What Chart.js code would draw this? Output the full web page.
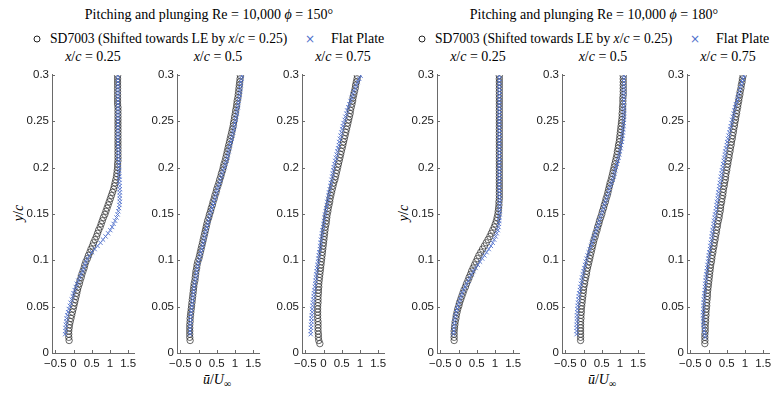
<!DOCTYPE html>
<html><head><meta charset="utf-8">
<script src="https://cdn.jsdelivr.net/npm/chart.js@4.4.1/dist/chart.umd.min.js"></script>
<style>
html,body{margin:0;padding:0;background:#fff;}
#wrap{position:relative;width:771px;height:393px;overflow:hidden;font-family:"Liberation Serif",serif;color:#000;}
canvas{position:absolute;}
.t{position:absolute;white-space:nowrap;transform:translate(-50%,-50%);font-size:14px;line-height:1;}
.l{position:absolute;white-space:nowrap;transform:translateY(-50%);font-size:14px;line-height:1;}
.ls{font-size:13.6px;}
.circ{position:absolute;width:5px;height:5px;border:1px solid #222;border-radius:50%;transform:translate(-50%,-50%);}
.cross{position:absolute;color:#5070cc;font-family:"DejaVu Sans",sans-serif;font-size:12px;transform:translate(-50%,-50%);line-height:1;}
.rot{position:absolute;white-space:nowrap;transform:translate(-50%,-50%) rotate(-90deg);font-size:14px;line-height:1;}
</style></head>
<body><div id="wrap">
<div class="t" style="left:209px;top:15px">Pitching and plunging Re = 10,000 <i>ϕ</i> = 150°</div>
<div class="t" style="left:594px;top:15px">Pitching and plunging Re = 10,000 <i>ϕ</i> = 180°</div>
<div class="circ" style="left:37px;top:39px"></div>
<div class="l ls" style="left:50px;top:39px">SD7003 (Shifted towards LE by <i>x</i>/<i>c</i> = 0.25)</div>
<div class="cross" style="left:310px;top:39px">×</div>
<div class="l" style="left:331px;top:39px">Flat Plate</div>
<div class="circ" style="left:422px;top:39px"></div>
<div class="l ls" style="left:435px;top:39px">SD7003 (Shifted towards LE by <i>x</i>/<i>c</i> = 0.25)</div>
<div class="cross" style="left:695px;top:39px">×</div>
<div class="l" style="left:716px;top:39px">Flat Plate</div>
<div class="t" style="left:93px;top:57px"><i>x</i>/<i>c</i> = 0.25</div>
<div class="t" style="left:218px;top:57px"><i>x</i>/<i>c</i> = 0.5</div>
<div class="t" style="left:343px;top:57px"><i>x</i>/<i>c</i> = 0.75</div>
<div class="t" style="left:478px;top:57px"><i>x</i>/<i>c</i> = 0.25</div>
<div class="t" style="left:603px;top:57px"><i>x</i>/<i>c</i> = 0.5</div>
<div class="t" style="left:728px;top:57px"><i>x</i>/<i>c</i> = 0.75</div>
<div class="rot" style="left:19px;top:213px"><i>y</i>/<i>c</i></div>
<div class="rot" style="left:404px;top:213px"><i>y</i>/<i>c</i></div>
<div class="t" style="left:217px;top:381px"><i>ū</i>/<i>U</i><sub style="font-size:10px">∞</sub></div>
<div class="t" style="left:602px;top:381px"><i>ū</i>/<i>U</i><sub style="font-size:10px">∞</sub></div>
</div>
<script>
const yTickVals = [0, 0.05, 0.1, 0.15, 0.2, 0.25, 0.3];
const yTickLabels = ['0', '0.05', '0.1', '0.15', '0.2', '0.25', '0.3'];
const xTickVals = [-0.5, 0, 0.5, 1, 1.5];
const xTickLabels = ['\u22120.5', '0', '0.5', '1', '1.5'];

const yGrid = [
0.0101,0.0135,0.0169,0.0203,0.0237,0.0271,0.0305,0.0339,0.0373,0.0407,
0.0441,0.0475,0.0509,0.0543,0.0577,0.0611,0.0645,0.0679,0.0713,0.0747,
0.0781,0.0815,0.0849,0.0883,0.0917,0.0951,0.0985,0.1019,0.1053,0.1087,
0.1121,0.1155,0.1189,0.1223,0.1257,0.1291,0.1325,0.1359,0.1393,0.1427,
0.1461,0.1495,0.1529,0.1563,0.1597,0.1631,0.1665,0.1699,0.1733,0.1767,
0.1801,0.1835,0.1869,0.1903,0.1937,0.1971,0.2005,0.2039,0.2073,0.2107,
0.2141,0.2175,0.2209,0.2243,0.2277,0.2311,0.2345,0.2379,0.2413,0.2447,
0.2481,0.2515,0.2549,0.2583,0.2617,0.2651,0.2685,0.2719,0.2753,0.2787,
0.2821,0.2855,0.2889,0.2923,0.2957,0.2991];

// phi = 150 deg
const sd150_025 = [
null,-0.12,-0.13,-0.13,-0.13,-0.12,-0.11,-0.09,-0.07,-0.05,
-0.03,-0.01,0.01,0.03,0.05,0.07,0.09,0.11,0.13,0.16,
0.18,0.21,0.23,0.26,0.29,0.31,0.34,0.38,0.41,0.45,
0.48,0.52,0.55,0.59,0.63,0.66,0.69,0.73,0.76,0.79,
0.82,0.86,0.89,0.92,0.95,0.98,1.01,1.04,1.07,1.10,
1.12,1.14,1.16,1.18,1.19,1.20,1.21,1.21,1.22,1.22,
1.22,1.22,1.22,1.22,1.22,1.22,1.22,1.22,1.22,1.22,
1.22,1.22,1.22,1.22,1.22,1.22,1.21,1.21,1.21,1.21,
1.21,1.21,1.21,1.21,1.21,1.21];
const fp150_025 = [
null,null,null,-0.23,-0.22,-0.22,-0.21,-0.20,-0.19,-0.17,
-0.15,-0.13,-0.10,-0.08,-0.05,-0.02,0.00,0.03,0.06,0.09,
0.13,0.17,0.21,0.25,0.28,0.31,0.34,0.38,0.44,0.51,
0.58,0.66,0.74,0.81,0.88,0.95,1.01,1.06,1.10,1.14,
1.18,1.21,1.23,1.25,1.26,1.27,1.27,1.27,1.27,1.27,
1.27,1.26,1.26,1.26,1.25,1.25,1.25,1.24,1.24,1.23,
1.23,1.23,1.23,1.22,1.22,1.22,1.22,1.22,1.22,1.22,
1.22,1.22,1.22,1.22,1.22,1.22,1.22,1.22,1.22,1.22,
1.22,1.22,1.22,1.22,1.22,1.22];
const sd150_050 = [
null,-0.23,-0.24,-0.24,-0.24,-0.24,-0.24,-0.23,-0.23,-0.22,
-0.21,-0.20,-0.19,-0.18,-0.17,-0.16,-0.15,-0.14,-0.13,-0.12,
-0.10,-0.09,-0.08,-0.07,-0.05,-0.04,-0.02,0.01,0.03,0.05,
0.07,0.09,0.11,0.13,0.15,0.17,0.19,0.21,0.23,0.25,
0.28,0.30,0.33,0.35,0.38,0.40,0.43,0.45,0.48,0.50,
0.53,0.56,0.58,0.61,0.63,0.66,0.68,0.70,0.73,0.75,
0.77,0.79,0.81,0.83,0.85,0.87,0.89,0.91,0.93,0.95,
0.96,0.98,0.99,1.01,1.02,1.04,1.05,1.06,1.08,1.09,
1.10,1.11,1.12,1.13,1.14,1.15];
const fp150_050 = [
null,null,null,-0.23,-0.23,-0.23,-0.23,-0.22,-0.22,-0.21,
-0.20,-0.19,-0.18,-0.17,-0.16,-0.15,-0.14,-0.13,-0.12,-0.11,
-0.09,-0.07,-0.06,-0.05,-0.03,-0.02,0.00,0.03,0.05,0.07,
0.09,0.11,0.13,0.15,0.17,0.19,0.21,0.23,0.25,0.27,
0.30,0.32,0.35,0.37,0.40,0.42,0.45,0.47,0.50,0.52,
0.55,0.58,0.60,0.63,0.65,0.68,0.72,0.74,0.77,0.79,
0.81,0.83,0.85,0.87,0.89,0.91,0.93,0.95,0.97,0.99,
1.00,1.02,1.03,1.05,1.06,1.08,1.09,1.10,1.12,1.13,
1.14,1.15,1.16,1.17,1.18,1.19];
const sd150_075 = [
-0.10,-0.13,-0.14,-0.14,-0.15,-0.15,-0.15,-0.15,-0.16,-0.16,
-0.16,-0.16,-0.16,-0.15,-0.15,-0.15,-0.14,-0.14,-0.13,-0.13,
-0.12,-0.11,-0.10,-0.09,-0.08,-0.07,-0.06,-0.05,-0.04,-0.03,
-0.02,-0.01,0.00,0.01,0.02,0.03,0.04,0.05,0.07,0.08,
0.09,0.10,0.12,0.13,0.15,0.17,0.18,0.20,0.22,0.24,
0.26,0.28,0.31,0.33,0.35,0.37,0.39,0.41,0.43,0.45,
0.47,0.49,0.51,0.53,0.55,0.57,0.59,0.61,0.63,0.65,
0.67,0.69,0.71,0.73,0.74,0.76,0.78,0.80,0.81,0.83,
0.85,0.87,0.88,0.90,0.92,0.93];
const fp150_075 = [
null,null,null,-0.35,-0.35,-0.34,-0.34,-0.33,-0.33,-0.32,
-0.31,-0.31,-0.30,-0.29,-0.28,-0.27,-0.26,-0.25,-0.24,-0.23,
-0.22,-0.21,-0.20,-0.19,-0.18,-0.17,-0.15,-0.14,-0.13,-0.12,
-0.10,-0.09,-0.08,-0.07,-0.05,-0.04,-0.03,-0.01,0.00,0.01,
0.03,0.04,0.06,0.07,0.09,0.10,0.12,0.14,0.15,0.17,
0.19,0.20,0.22,0.24,0.25,0.27,0.28,0.30,0.32,0.34,
0.36,0.38,0.40,0.42,0.43,0.45,0.47,0.49,0.51,0.53,
0.55,0.58,0.60,0.63,0.65,0.68,0.71,0.74,0.77,0.80,
0.83,0.87,0.90,0.94,0.98,1.02];

// phi = 180 deg
const sd180_025 = [
null,-0.12,-0.12,-0.12,-0.12,-0.11,-0.10,-0.09,-0.07,-0.06,
-0.04,-0.02,0.01,0.03,0.06,0.09,0.12,0.15,0.19,0.22,
0.26,0.29,0.33,0.36,0.40,0.44,0.48,0.52,0.56,0.61,
0.66,0.71,0.76,0.81,0.86,0.90,0.94,0.98,1.01,1.04,
1.06,1.08,1.09,1.10,1.11,1.11,1.12,1.12,1.12,1.12,
1.12,1.12,1.12,1.12,1.12,1.12,1.12,1.12,1.12,1.12,
1.12,1.12,1.12,1.12,1.12,1.12,1.12,1.12,1.12,1.12,
1.12,1.12,1.12,1.12,1.12,1.12,1.12,1.12,1.12,1.12,
1.12,1.12,1.12,1.12,1.12,1.12];
const fp180_025 = [
null,null,null,-0.14,-0.13,-0.13,-0.12,-0.11,-0.10,-0.08,
-0.06,-0.04,-0.02,0.01,0.04,0.07,0.10,0.14,0.18,0.22,
0.27,0.31,0.36,0.41,0.47,0.53,0.59,0.65,0.71,0.77,
0.83,0.89,0.94,0.98,1.02,1.05,1.08,1.10,1.11,1.12,
1.12,1.13,1.13,1.13,1.13,1.13,1.13,1.12,1.12,1.12,
1.12,1.12,1.12,1.12,1.12,1.12,1.12,1.12,1.12,1.12,
1.12,1.12,1.12,1.12,1.12,1.12,1.12,1.12,1.12,1.12,
1.12,1.12,1.12,1.12,1.12,1.12,1.12,1.12,1.12,1.12,
1.12,1.12,1.12,1.12,1.12,1.12];
const sd180_050 = [
null,-0.08,-0.08,-0.08,-0.08,-0.08,-0.08,-0.08,-0.07,-0.07,
-0.06,-0.06,-0.05,-0.04,-0.03,-0.02,-0.01,0.00,0.01,0.03,
0.04,0.06,0.08,0.09,0.11,0.13,0.15,0.17,0.19,0.21,
0.23,0.25,0.27,0.29,0.32,0.34,0.37,0.39,0.42,0.44,
0.47,0.50,0.52,0.55,0.57,0.60,0.62,0.65,0.67,0.69,
0.71,0.73,0.76,0.78,0.80,0.82,0.84,0.86,0.88,0.90,
0.92,0.93,0.95,0.96,0.98,0.99,1.00,1.01,1.02,1.03,
1.04,1.05,1.06,1.06,1.07,1.07,1.08,1.08,1.08,1.09,
1.09,1.09,1.09,1.09,1.09,1.09];
const fp180_050 = [
null,null,null,-0.19,-0.19,-0.19,-0.19,-0.18,-0.18,-0.18,
-0.17,-0.17,-0.16,-0.15,-0.14,-0.13,-0.12,-0.10,-0.09,-0.07,
-0.05,-0.04,-0.02,0.00,0.02,0.04,0.06,0.08,0.11,0.14,
0.17,0.20,0.23,0.26,0.29,0.32,0.35,0.38,0.41,0.43,
0.46,0.49,0.52,0.55,0.57,0.60,0.63,0.66,0.69,0.71,
0.74,0.77,0.80,0.83,0.85,0.87,0.89,0.92,0.94,0.96,
0.98,1.00,1.02,1.03,1.05,1.06,1.07,1.08,1.09,1.10,
1.10,1.11,1.11,1.11,1.11,1.11,1.11,1.11,1.11,1.11,
1.11,1.11,1.11,1.11,1.11,1.11];
const sd180_075 = [
-0.10,-0.10,-0.10,-0.10,-0.09,-0.09,-0.09,-0.08,-0.08,-0.07,
-0.07,-0.06,-0.05,-0.05,-0.04,-0.03,-0.03,-0.02,-0.01,0.00,
0.01,0.02,0.03,0.04,0.05,0.06,0.08,0.09,0.10,0.12,
0.13,0.15,0.16,0.18,0.19,0.21,0.22,0.24,0.25,0.27,
0.29,0.30,0.32,0.33,0.34,0.36,0.37,0.39,0.40,0.41,
0.43,0.44,0.46,0.47,0.48,0.50,0.51,0.53,0.54,0.56,
0.57,0.59,0.60,0.62,0.63,0.65,0.66,0.68,0.69,0.71,
0.72,0.74,0.75,0.77,0.78,0.80,0.81,0.83,0.84,0.86,
0.87,0.89,0.90,0.92,0.93,0.95];
const fp180_075 = [
null,null,-0.09,-0.11,-0.12,-0.13,-0.14,-0.14,-0.15,-0.15,
-0.15,-0.14,-0.14,-0.13,-0.13,-0.12,-0.11,-0.10,-0.10,-0.09,
-0.08,-0.07,-0.06,-0.05,-0.04,-0.03,-0.01,0.00,0.01,0.02,
0.04,0.05,0.06,0.08,0.09,0.10,0.11,0.13,0.14,0.15,
0.17,0.18,0.20,0.21,0.22,0.23,0.25,0.26,0.27,0.29,
0.30,0.31,0.33,0.34,0.36,0.37,0.39,0.40,0.42,0.43,
0.45,0.46,0.48,0.50,0.51,0.53,0.55,0.57,0.59,0.61,
0.63,0.65,0.67,0.69,0.71,0.73,0.75,0.78,0.80,0.82,
0.85,0.87,0.90,0.92,0.95,0.97];

const axisLeft = [52, 177, 302, 437, 562, 687];
const panels = [
  [sd150_025, fp150_025], [sd150_050, fp150_050], [sd150_075, fp150_075],
  [sd180_025, fp180_025], [sd180_050, fp180_050], [sd180_075, fp180_075]
];
panels.forEach((p, k) => {
  if (p[0].length !== yGrid.length || p[1].length !== yGrid.length)
    throw new Error('length mismatch panel ' + k + ': ' + p[0].length + ',' + p[1].length);
});

const AX = '#6a6a6a';
const BLUE = '#5070cc';
const wrap = document.getElementById('wrap');

const inwardTicks = {
  id: 'inwardTicks',
  afterDraw(chart) {
    const ctx = chart.ctx, a = chart.chartArea, xs = chart.scales.x, ys = chart.scales.y;
    ctx.save();
    ctx.strokeStyle = AX; ctx.lineWidth = 1;
    ctx.beginPath();
    xs.ticks.forEach(t => {
      const px = Math.round(xs.getPixelForValue(t.value)) + 0.5;
      ctx.moveTo(px, a.bottom); ctx.lineTo(px, a.bottom - 3);
    });
    ys.ticks.forEach(t => {
      const py = Math.round(ys.getPixelForValue(t.value)) + 0.5;
      ctx.moveTo(a.left, py); ctx.lineTo(a.left + 3, py);
    });
    ctx.stroke();
    ctx.restore();
  }
};

function pts(arr) {
  const out = [];
  arr.forEach((v, i) => { if (v !== null) out.push({x: v, y: yGrid[i]}); });
  return out;
}

panels.forEach((p, k) => {
  const c = document.createElement('canvas');
  c.width = 132; c.height = 310;
  c.style.left = (axisLeft[k] - 40) + 'px';
  c.style.top = '65px';
  c.style.width = '132px'; c.style.height = '310px';
  wrap.appendChild(c);
  new Chart(c, {
    type: 'scatter',
    data: { datasets: [
      { data: pts(p[1]), pointStyle: 'crossRot', pointRadius: 3, borderColor: BLUE, backgroundColor: 'rgba(0,0,0,0)', pointBorderWidth: 0.9 },
      { data: pts(p[0]), pointStyle: 'circle', pointRadius: 3.2, borderColor: '#262626', backgroundColor: 'rgba(0,0,0,0)', pointBorderWidth: 0.7 }
    ]},
    options: {
      responsive: false, animation: false, devicePixelRatio: 1, events: [],
      layout: { padding: { left: 0, right: 10, top: 8, bottom: 0 } },
      plugins: { legend: { display: false }, tooltip: { enabled: false } },
      scales: {
        x: {
          type: 'linear', min: -0.59, max: 1.66,
          afterFit: s => { s.height = 22; },
          afterBuildTicks: s => { s.ticks = xTickVals.map(v => ({ value: v })); },
          grid: { display: false, drawTicks: false },
          border: { display: true, color: AX, width: 1 },
          ticks: { padding: 4, color: '#1a1a1a', autoSkip: false, maxRotation: 0,
                   font: { family: 'Liberation Sans', size: 11.5 },
                   callback: (v, i) => xTickLabels[i] }
        },
        y: {
          type: 'linear', min: 0, max: 0.3,
          afterFit: s => { s.width = 40; },
          afterBuildTicks: s => { s.ticks = yTickVals.map(v => ({ value: v })); },
          grid: { display: false, drawTicks: false },
          border: { display: true, color: AX, width: 1 },
          ticks: { padding: 3, color: '#1a1a1a', autoSkip: false,
                   font: { family: 'Liberation Sans', size: 11.5 },
                   callback: (v, i) => yTickLabels[i] }
        }
      }
    },
    plugins: [inwardTicks]
  });
});
</script>
</body></html>
